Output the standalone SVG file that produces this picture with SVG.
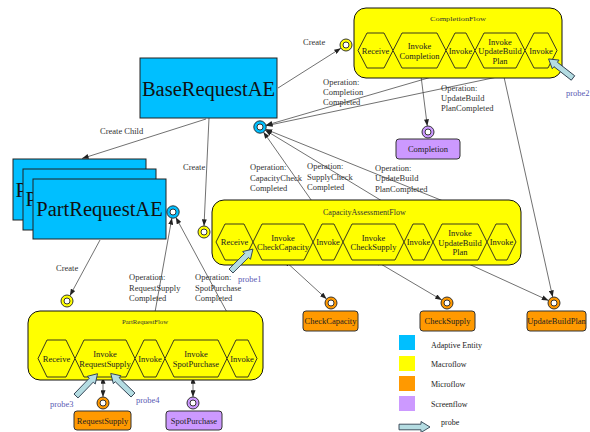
<svg xmlns="http://www.w3.org/2000/svg" width="590" height="432" viewBox="0 0 590 432">
  <style>
    text { font-family: "Liberation Serif", "Times New Roman", serif; fill: #333; }
    .lbl { font-size: 8.5px; }
    .hx { font-size: 8.5px; text-anchor: middle; fill: #222; }
    .hexa { fill: #ffff00; stroke: #222; stroke-width: 0.9; }
    .flow { fill: #ffff00; stroke: #111; stroke-width: 1; }
    .ae { fill: #00bfff; stroke: #222; stroke-width: 1; }
    .ae-t { font-size: 20.5px; fill: #111; }
    .micro { fill: #ff9900; stroke: #333; stroke-width: 1; }
    .screen { fill: #cc99ff; stroke: #333; stroke-width: 1; }
    .box-t { font-size: 8.5px; text-anchor: middle; fill: #222; }
    .ring-in { fill: #fff; stroke: #222; stroke-width: 0.9; }
    .ring-out { stroke: #222; stroke-width: 0.9; }
    .conn line { stroke: #333; stroke-width: 0.7; fill: none; }
    .one { marker-end: url(#tip); }
    .two { marker-start: url(#tip); marker-end: url(#tip); }
    .probe { fill: #b4dce2; stroke: #2f3f4f; stroke-width: 0.9; }
    .probe-t { font-size: 8.5px; fill: #5a5ab4; }
    .legend-t { font-size: 8px; fill: #222; }
  </style>
  <defs>
    <marker id="tip" viewBox="0 0 8 6" refX="8" refY="3" markerWidth="7" markerHeight="5" markerUnits="userSpaceOnUse" orient="auto-start-reverse">
      <path d="M0,0 L8,3 L0,6 Z" fill="#222"/>
    </marker>
    <!-- block arrow pointing right, tail at origin -->
    <path id="probeArrow" d="M0,-2.8 L22,-2.8 L22,-5.5 L31,0 L22,5.5 L22,2.8 L0,2.8 Z"/>
  </defs>

  <!-- connectors -->
  <g id="connectors" class="conn">
    <line class="one" x1="278" y1="88" x2="340.9" y2="48.2"/>
    <line class="one" x1="206" y1="119" x2="82" y2="158.5"/>
    <line class="one" x1="209" y1="118" x2="204" y2="226"/>
    <line class="one" x1="100" y1="240" x2="69.9" y2="295.7"/>
    <line class="one" x1="459" y1="69" x2="265.8" y2="125.3"/>
    <line class="one" x1="540" y1="68" x2="265.9" y2="125.8"/>
    <line class="one" x1="328" y1="224" x2="263.4" y2="131.9"/>
    <line class="one" x1="420" y1="224" x2="265.1" y2="130.1"/>
    <line class="one" x1="500" y1="224" x2="265.6" y2="129.2"/>
    <line class="one" x1="150" y1="340" x2="171.9" y2="217.9"/>
    <line class="one" x1="242" y1="340" x2="175.8" y2="217.3"/>
    <line class="two" x1="420" y1="68" x2="427.3" y2="126"/>
    <line class="two" x1="502" y1="68" x2="552.7" y2="297.1"/>
    <line class="two" x1="284" y1="260" x2="326.6" y2="299"/>
    <line class="two" x1="374" y1="260" x2="441.8" y2="300"/>
    <line class="two" x1="460" y1="260" x2="548.5" y2="300.5"/>
    <line class="two" x1="103" y1="377" x2="103" y2="397"/>
    <line class="two" x1="193" y1="377" x2="193" y2="397"/>
  </g>

  <!-- connector labels -->
  <g id="connector-labels" class="lbl">
    <text x="303" y="45">Create</text>
    <text x="100" y="134">Create Child</text>
    <text x="183" y="170">Create</text>
    <text x="56" y="271">Create</text>
    <text x="323" y="85">Operation:</text>
    <text x="323" y="95">Completion</text>
    <text x="323" y="105">Completed</text>
    <text x="441" y="91">Operation:</text>
    <text x="441" y="101">UpdateBuild</text>
    <text x="441" y="111">PlanCompleted</text>
    <text x="250" y="170">Operation:</text>
    <text x="250" y="181">CapacityCheck</text>
    <text x="250" y="191">Completed</text>
    <text x="307" y="169">Operation:</text>
    <text x="307" y="180">SupplyCheck</text>
    <text x="307" y="190">Completed</text>
    <text x="375" y="171">Operation:</text>
    <text x="375" y="181">UpdateBuild</text>
    <text x="375" y="192">PlanCompleted</text>
    <text x="129" y="280">Operation:</text>
    <text x="129" y="291">RequestSupply</text>
    <text x="129" y="301">Completed</text>
    <text x="195" y="280">Operation:</text>
    <text x="195" y="291">SpotPurchase</text>
    <text x="195" y="301">Completed</text>
  </g>

  <!-- adaptive entities -->
  <g id="BaseRequestAE">
    <rect class="ae" x="140" y="58" width="137" height="60"/>
    <text class="ae-t" x="208.5" y="96" text-anchor="middle">BaseRequestAE</text>
    <circle class="ring-out" cx="260" cy="127" r="6.2" fill="#00bfff"/>
    <circle class="ring-in" cx="260" cy="127" r="3"/>
  </g>

  <!-- stacked instances: only the leading letter of the rear cards stays uncovered -->
  <g id="PartRequestAE">
    <rect class="ae" x="13" y="159" width="133" height="61"/>
    <text class="ae-t" x="15.5" y="197">P</text>
    <rect class="ae" x="23" y="169" width="133" height="61"/>
    <text class="ae-t" x="25.5" y="206">P</text>
    <rect class="ae" x="33" y="179" width="133" height="60"/>
    <text class="ae-t" x="99.5" y="216" text-anchor="middle">PartRequestAE</text>
    <circle class="ring-out" cx="173" cy="212" r="6.2" fill="#00bfff"/>
    <circle class="ring-in" cx="173" cy="212" r="3"/>
  </g>

  <!-- macroflows -->
  <g id="CompletionFlow">
    <rect class="flow" x="354" y="8" width="208" height="70" rx="12"/>
    <text x="458" y="20.5" font-size="6.5" text-anchor="middle" textLength="56" lengthAdjust="spacingAndGlyphs" fill="#222">CompletionFlow</text>
    <circle class="ring-out" cx="346" cy="45" r="6" fill="#ffff00"/>
    <circle class="ring-in" cx="346" cy="45" r="3"/>
    <polygon class="hexa" points="358,50.5 367,33 384,33 393,50.5 384,68 367,68"/>
    <polygon class="hexa" points="393,50.5 402,33 437,33 446,50.5 437,68 402,68"/>
    <polygon class="hexa" points="446,50.5 455,33 466,33 475,50.5 466,68 455,68"/>
    <polygon class="hexa" points="475,50.5 484,33 516,33 525,50.5 516,68 484,68"/>
    <polygon class="hexa" points="525,50.5 534,33 548,33 557,50.5 548,68 534,68"/>
    <text class="hx" x="375.5" y="53.5">Receive</text>
    <text class="hx" x="419.5" y="49">Invoke</text>
    <text class="hx" x="419.5" y="58.5">Completion</text>
    <text class="hx" x="460.5" y="53.5">Invoke</text>
    <text class="hx" x="500" y="44.5">Invoke</text>
    <text class="hx" x="500" y="54">UpdateBuild</text>
    <text class="hx" x="500" y="63.5">Plan</text>
    <text class="hx" x="541" y="53.5">Invoke</text>
  </g>

  <g id="CapacityAssessmentFlow">
    <rect class="flow" x="212" y="200" width="309" height="65" rx="12"/>
    <text x="323" y="215" font-size="8" fill="#222">CapacityAssessmentFlow</text>
    <circle class="ring-out" cx="204" cy="232" r="6" fill="#ffff00"/>
    <circle class="ring-in" cx="204" cy="232" r="3"/>
    <polygon class="hexa" points="216,242 225,224 244,224 253,242 244,260 225,260"/>
    <polygon class="hexa" points="253,242 262,224 304,224 313,242 304,260 262,260"/>
    <polygon class="hexa" points="313,242 322,224 334,224 343,242 334,260 322,260"/>
    <polygon class="hexa" points="343,242 352,224 395,224 404,242 395,260 352,260"/>
    <polygon class="hexa" points="404,242 413,224 424,224 433,242 424,260 413,260"/>
    <polygon class="hexa" points="433,242 442,224 478,224 487,242 478,260 442,260"/>
    <polygon class="hexa" points="487,242 496,224 507,224 516,242 507,260 496,260"/>
    <text class="hx" x="234.5" y="245">Receive</text>
    <text class="hx" x="283" y="240.5">Invoke</text>
    <text class="hx" x="283" y="250">CheckCapacity</text>
    <text class="hx" x="328" y="245">Invoke</text>
    <text class="hx" x="373.5" y="240.5">Invoke</text>
    <text class="hx" x="373.5" y="250">CheckSupply</text>
    <text class="hx" x="418.5" y="245">Invoke</text>
    <text class="hx" x="460" y="236">Invoke</text>
    <text class="hx" x="460" y="245.5">UpdateBuild</text>
    <text class="hx" x="460" y="255">Plan</text>
    <text class="hx" x="501.5" y="245">Invoke</text>
  </g>

  <g id="PartRequestFlow">
    <rect class="flow" x="28" y="311" width="235" height="69" rx="12"/>
    <text x="145" y="324" font-size="6.5" text-anchor="middle" textLength="46" lengthAdjust="spacingAndGlyphs" fill="#222">PartRequestFlow</text>
    <circle class="ring-out" cx="67" cy="301" r="6" fill="#ffff00"/>
    <circle class="ring-in" cx="67" cy="301" r="3"/>
    <polygon class="hexa" points="38,358.5 47,340 66,340 75,358.5 66,377 47,377"/>
    <polygon class="hexa" points="75,358.5 84,340 126,340 135,358.5 126,377 84,377"/>
    <polygon class="hexa" points="135,358.5 144,340 156,340 165,358.5 156,377 144,377"/>
    <polygon class="hexa" points="165,358.5 174,340 218,340 227,358.5 218,377 174,377"/>
    <polygon class="hexa" points="227,358.5 236,340 248,340 257,358.5 248,377 236,377"/>
    <text class="hx" x="56.5" y="361.5">Receive</text>
    <text class="hx" x="105" y="357">Invoke</text>
    <text class="hx" x="105" y="366.5">RequestSupply</text>
    <text class="hx" x="150" y="361.5">Invoke</text>
    <text class="hx" x="196" y="357">Invoke</text>
    <text class="hx" x="196" y="366.5">SpotPurchase</text>
    <text class="hx" x="242" y="361.5">Invoke</text>
  </g>

  <!-- microflows and screenflows -->
  <g id="Completion">
    <circle class="ring-out" cx="428" cy="132" r="6" fill="#cc99ff"/>
    <circle class="ring-in" cx="428" cy="132" r="3"/>
    <rect class="screen" x="396" y="139" width="64" height="20" rx="3"/>
    <text class="box-t" x="428" y="152">Completion</text>
  </g>
  <g id="CheckCapacity">
    <circle class="ring-out" cx="331" cy="303" r="6" fill="#ff9900"/>
    <circle class="ring-in" cx="331" cy="303" r="3"/>
    <rect class="micro" x="303" y="311" width="55" height="20" rx="3"/>
    <text class="box-t" x="330.5" y="324">CheckCapacity</text>
  </g>
  <g id="CheckSupply">
    <circle class="ring-out" cx="447" cy="303" r="6" fill="#ff9900"/>
    <circle class="ring-in" cx="447" cy="303" r="3"/>
    <rect class="micro" x="420" y="311" width="55" height="20" rx="3"/>
    <text class="box-t" x="447.5" y="324">CheckSupply</text>
  </g>
  <g id="UpdateBuildPlan">
    <circle class="ring-out" cx="554" cy="303" r="6" fill="#ff9900"/>
    <circle class="ring-in" cx="554" cy="303" r="3"/>
    <rect class="micro" x="527" y="311" width="59" height="20" rx="3"/>
    <text class="box-t" x="556.5" y="324">UpdateBuildPlan</text>
  </g>
  <g id="RequestSupply">
    <circle class="ring-out" cx="103" cy="403" r="6" fill="#ff9900"/>
    <circle class="ring-in" cx="103" cy="403" r="3"/>
    <rect class="micro" x="74" y="411" width="57" height="19" rx="3"/>
    <text class="box-t" x="102.5" y="423.5">RequestSupply</text>
  </g>
  <g id="SpotPurchase">
    <circle class="ring-out" cx="193" cy="403" r="6" fill="#cc99ff"/>
    <circle class="ring-in" cx="193" cy="403" r="3"/>
    <rect class="screen" x="166" y="411" width="56" height="19" rx="3"/>
    <text class="box-t" x="194" y="423.5">SpotPurchase</text>
  </g>

  <!-- probes -->
  <g id="probes">
    <use href="#probeArrow" class="probe" transform="translate(231,271) rotate(-45)"/>
    <text class="probe-t" x="238" y="282">probe1</text>
    <use href="#probeArrow" class="probe" transform="translate(573,78) rotate(-142)"/>
    <text class="probe-t" x="566" y="96">probe2</text>
    <use href="#probeArrow" class="probe" transform="translate(76,396) rotate(-46)"/>
    <text class="probe-t" x="50" y="407">probe3</text>
    <use href="#probeArrow" class="probe" transform="translate(133,395) rotate(-136)"/>
    <text class="probe-t" x="136" y="403">probe4</text>
  </g>

  <!-- legend -->
  <g id="legend">
    <rect x="399" y="335" width="16" height="15" fill="#00bfff"/>
    <text class="legend-t" x="431" y="348">Adaptive Entity</text>
    <rect x="399" y="356" width="16" height="15" fill="#ffff00"/>
    <text class="legend-t" x="431" y="367">Macroflow</text>
    <rect x="399" y="376" width="16" height="15" fill="#ff9900"/>
    <text class="legend-t" x="431" y="387">Microflow</text>
    <rect x="399" y="396" width="16" height="15" fill="#cc99ff"/>
    <text class="legend-t" x="431" y="407">Screenflow</text>
    <use href="#probeArrow" class="probe" transform="translate(399,427)"/>
    <text class="legend-t" x="441" y="425">probe</text>
  </g>
</svg>
